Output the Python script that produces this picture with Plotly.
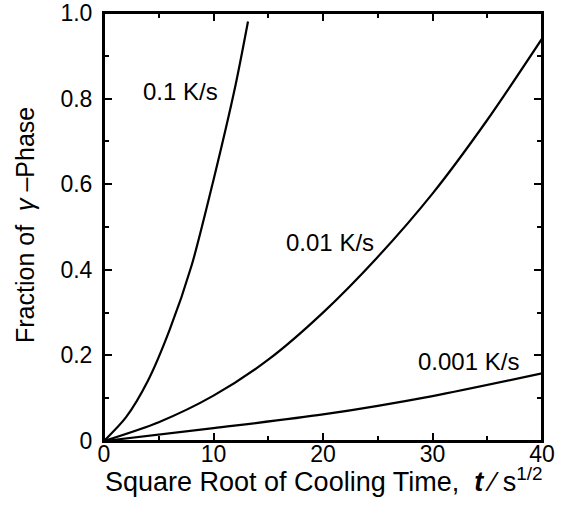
import plotly.graph_objects as go

# Data
x_01 = [0, 2, 4, 6, 8, 10, 12, 13.15]
y_01 = [0, 0.055, 0.14, 0.26, 0.41, 0.61, 0.83, 0.98]

x_001 = [0, 5, 10, 15, 20, 25, 30, 35, 40]
y_001 = [0, 0.044, 0.106, 0.19, 0.30, 0.43, 0.578, 0.75, 0.94]

x_0001 = [0, 10, 20, 30, 40]
y_0001 = [0, 0.030, 0.062, 0.105, 0.158]

curve_labels = ["0.1 K/s", "0.01 K/s", "0.001 K/s"]
label_x = [7.03, 20.6, 33.3]
label_y = [0.817, 0.463, 0.186]

x_tickvals = [0, 10, 20, 30, 40]
x_ticktext = ["0", "10", "20", "30", "40"]
y_tickvals = [0, 0.2, 0.4, 0.6, 0.8, 1.0]
y_ticktext = ["0", "0.2", "0.4", "0.6", "0.8", "1.0"]

FONT = "Liberation Sans, Arial, Helvetica, sans-serif"

fig = go.Figure()
for xs, ys in [(x_01, y_01), (x_001, y_001), (x_0001, y_0001)]:
    fig.add_trace(go.Scatter(x=xs, y=ys, mode="lines",
                             line=dict(color="black", width=2.2, shape="spline", smoothing=0.8),
                             showlegend=False, hoverinfo="skip"))

for t, lx, ly in zip(curve_labels, label_x, label_y):
    fig.add_annotation(x=lx, y=ly, text=t, showarrow=False, xref="x", yref="y",
                       font=dict(family=FONT, size=24, color="black"))

axis_common = dict(showgrid=False, zeroline=False, showline=True, linecolor="black",
                   linewidth=2, mirror="allticks", ticks="inside", tickcolor="black",
                   tickwidth=1.5, ticklen=8, automargin=False, ticklabeloverflow="allow",
                   tickfont=dict(family=FONT, size=23, color="black"))

fig.update_xaxes(range=[0, 40], tickvals=x_tickvals, ticktext=x_ticktext,
                 minor=dict(dtick=5, tick0=0, ticks="inside", ticklen=5, tickcolor="black", tickwidth=1.5),
                 ticklabelstandoff=-9, **axis_common)
fig.update_yaxes(range=[0, 1.0], tickvals=y_tickvals, ticktext=y_ticktext,
                 minor=dict(dtick=0.1, tick0=0, ticks="inside", ticklen=5, tickcolor="black", tickwidth=1.5),
                 ticklabelstandoff=5, **axis_common)

# plot frame
fig.add_shape(type="rect", xref="paper", yref="paper", x0=0, y0=0, x1=1, y1=1,
              line=dict(color="black", width=2), layer="above")

# axis titles
fig.add_annotation(xref="paper", yref="paper", x=0.5, y=-0.092, yanchor="middle", xanchor="center",
                   text="Square Root of Cooling Time,  <b><i>t</i></b> ⁄ s<sup>1/2</sup>",
                   showarrow=False, font=dict(family=FONT, size=27, color="black"))
fig.add_annotation(xref="paper", yref="paper", x=-0.18, y=0.505, textangle=-90,
                   xanchor="center", yanchor="middle",
                   text="Fraction of  <i>γ</i> –Phase",
                   showarrow=False, font=dict(family=FONT, size=25, color="black"))

fig.update_layout(width=571, height=508, margin=dict(l=104, r=29, t=13, b=67),
                  plot_bgcolor="white", paper_bgcolor="white")

fig.write_html("out.html", config={"displayModeBar": False},
               post_script="document.body.style.margin='0';document.body.style.overflow='hidden';")
